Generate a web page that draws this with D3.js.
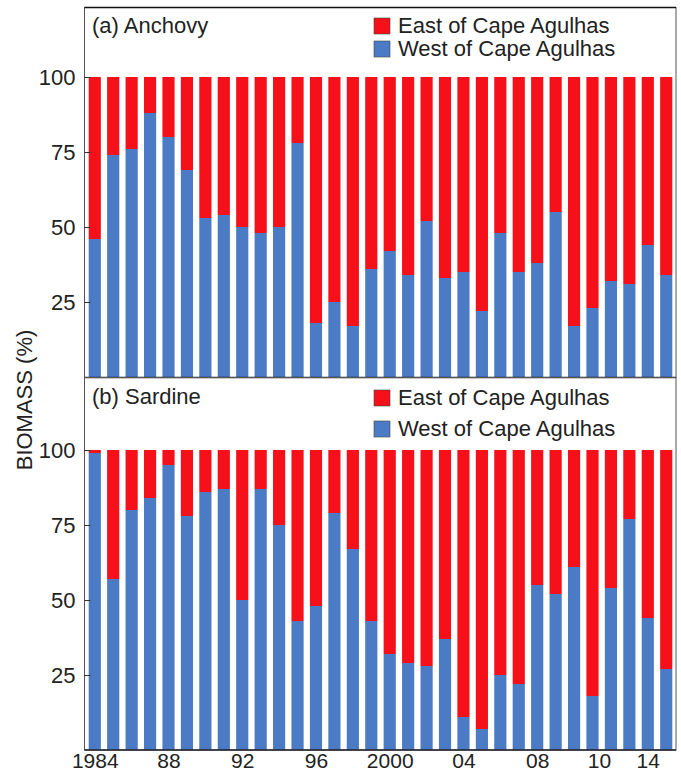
<!DOCTYPE html>
<html>
<head>
<meta charset="utf-8">
<script src="https://cdn.jsdelivr.net/npm/d3@7"></script>
<style>
  html, body { margin: 0; padding: 0; background: #fff; }
  svg { display: block; }
  text { font-family: "Liberation Sans", Arial, sans-serif; fill: #222; }
</style>
</head>
<body>
<svg id="chart" width="681" height="775"></svg>
<script>
// Survey years, one bar each
const years = [1984,1985,1986,1987,1988,1989,1990,1991,1992,1993,1994,1995,1996,1997,1998,1999,
               2000,2001,2002,2003,2004,2005,2006,2007,2008,2009,2010,2011,2012,2013,2014,2015];

// Share of biomass (%) west / east of Cape Agulhas
const anchovyWest = [46,74,76,88,80,69,53,54,50,48,50,78,18,25,17,36,42,34,52,33,35,22,48,35,38,55,17,23,32,31,44,34];
const anchovyEast = [54,26,24,12,20,31,47,46,50,52,50,22,82,75,83,64,58,66,48,67,65,78,52,65,62,45,83,77,68,69,56,66];
const sardineWest = [99,57,80,84,95,78,86,87,50,87,75,43,48,79,67,43,32,29,28,37,11,7,25,22,55,52,61,18,54,77,44,27];
const sardineEast = [1,43,20,16,5,22,14,13,50,13,25,57,52,21,33,57,68,71,72,63,89,93,75,78,45,48,39,82,46,23,56,73];

// Axis labels
const yTicks = [25, 50, 75, 100];
const xTickYears = [1984, 1988, 1992, 1996, 2000, 2004, 2008, 2011.35, 2014];
const xTickLabels = ["1984", "88", "92", "96", "2000", "04", "08", "10", "14"];

const seriesKeys = ["west", "east"];
const seriesNames = { east: "East of Cape Agulhas", west: "West of Cape Agulhas" };
const colors = { west: "#4a7bc4", east: "#f5101a" };

const svg = d3.select("#chart");
const left = 85, right = 676;

const x = d3.scaleBand().domain(years).range([left, right]).paddingInner(0.34).paddingOuter(0.2);
const bw = x.bandwidth();
const xCenter = d3.scaleLinear().domain([1984, 2015]).range([x(1984) + bw / 2, x(2015) + bw / 2]);

const panels = [
  { title: "(a) Anchovy", west: anchovyWest, east: anchovyEast, top: 7.5, bottom: 377.5, y0: 377, y100: 77,
    titleY: 33, legendY: [18, 41] },
  { title: "(b) Sardine", west: sardineWest, east: sardineEast, top: 377.5, bottom: 750, y0: 750, y100: 450,
    titleY: 404, legendY: [390, 421] }
];

panels.forEach((p, pi) => {
  const g = svg.append("g");
  const y = d3.scaleLinear().domain([0, 100]).range([p.y0, p.y100]);

  const rows = years.map((yr, i) => ({ year: yr, west: p.west[i], east: p.east[i] }));
  const stacked = d3.stack().keys(seriesKeys)(rows);

  g.selectAll("g.series")
    .data(stacked)
    .join("g")
    .attr("class", "series")
    .attr("fill", d => colors[d.key])
    .selectAll("rect")
    .data(d => d)
    .join("rect")
    .attr("x", d => x(d.data.year))
    .attr("width", bw)
    .attr("y", d => y(d[1]))
    .attr("height", d => y(d[0]) - y(d[1]));

  // Frame
  g.append("rect")
    .attr("x", left - 0.5).attr("y", p.top)
    .attr("width", right - left + 0.5).attr("height", p.bottom - p.top)
    .attr("fill", "none").attr("stroke", "#555").attr("stroke-width", 1);
  if (pi === 0) {
    g.append("line").attr("x1", left - 0.5).attr("x2", right).attr("y1", p.top).attr("y2", p.top)
      .attr("stroke", "#111").attr("stroke-width", 1.6);
  }
  g.append("line").attr("x1", left - 0.5).attr("x2", right).attr("y1", p.bottom).attr("y2", p.bottom)
    .attr("stroke", "#223").attr("stroke-width", 1.4);

  // Y axis with inward ticks
  const yAxis = d3.axisLeft(y).tickValues(yTicks).tickSizeInner(-6).tickSizeOuter(0).tickPadding(9);
  const ya = g.append("g").attr("transform", `translate(${left - 0.5},0)`).call(yAxis);
  ya.select(".domain").remove();
  ya.selectAll(".tick line").attr("stroke", "#333");
  ya.selectAll(".tick text").attr("font-size", 22).attr("fill", "#222")
    .attr("font-family", "'Liberation Sans', Arial, sans-serif");

  // Panel title
  g.append("text").attr("x", 92).attr("y", p.titleY).attr("font-size", 22).text(p.title);

  // Legend
  ["east", "west"].forEach((k, i) => {
    g.append("rect").attr("x", 374).attr("y", p.legendY[i]).attr("width", 16).attr("height", 16)
      .attr("fill", colors[k]).attr("stroke", "#444").attr("stroke-width", 0.6);
    g.append("text").attr("x", 398).attr("y", p.legendY[i] + 15).attr("font-size", 22).text(seriesNames[k]);
  });

  // Year labels under the lower panel
  if (pi === 1) {
    const xAxis = d3.axisBottom(xCenter).tickValues(xTickYears)
      .tickFormat((d, i) => xTickLabels[i]).tickSize(0).tickPadding(3);
    const xa = g.append("g").attr("transform", `translate(0,${p.bottom})`).call(xAxis);
    xa.select(".domain").remove();
    xa.selectAll(".tick text").attr("font-size", 21).attr("fill", "#222")
      .attr("font-family", "'Liberation Sans', Arial, sans-serif");
  }
});

// Shared y-axis title
svg.append("text")
  .attr("transform", "translate(24,400) rotate(-90)")
  .attr("text-anchor", "middle")
  .attr("dominant-baseline", "central")
  .attr("font-size", 22)
  .text("BIOMASS (%)");
</script>
</body>
</html>
